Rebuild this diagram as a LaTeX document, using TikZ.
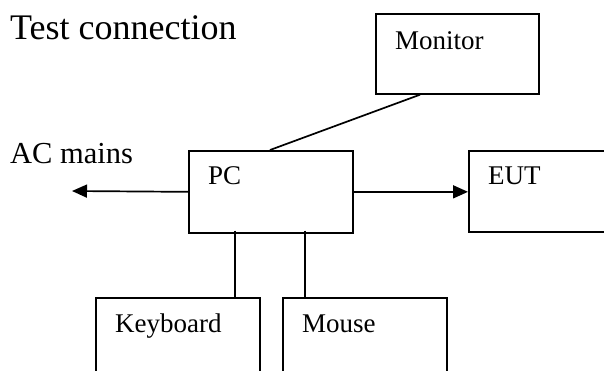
\documentclass[tikz,border=0pt]{standalone}
\usepackage{fontspec}
\setmainfont{Liberation Serif}
\usetikzlibrary{arrows.meta,calc}
\begin{document}
\begin{tikzpicture}[x=1pt,y=-1pt,
  box/.style={draw=black,line width=1.7pt,rectangle,anchor=north west,inner sep=0pt},
  lbl/.style={anchor=base west,inner sep=0pt,font=\fontsize{27}{31}\selectfont},
  conn/.style={line width=1.7pt},
  arr/.style={line width=1.7pt,-{Triangle[length=15pt,width=13pt]}}]
\useasboundingbox (0,0) rectangle (604,371);
\clip (0,0) rectangle (604,371);
\node[anchor=base west,inner sep=0pt,font=\fontsize{36}{41}\selectfont] (title) at (10,40) {Test connection};
\node[anchor=base west,inner sep=0pt,font=\fontsize{30.5}{35}\selectfont] (ac) at (10,164) {AC mains};
\node[box,minimum width=163pt,minimum height=80pt] (mon) at (375,13) {};
\node[lbl] (mont) at (395,50) {Monitor};
\node[box,minimum width=164pt,minimum height=82pt] (pc) at (188,150) {};
\node[lbl] (pct) at (208,185) {PC};
\node[box,minimum width=160pt,minimum height=81pt] (eut) at (468,150) {};
\node[lbl] (eutt) at (488,185) {EUT};
\node[box,minimum width=164pt,minimum height=110pt] (kb) at (95,297) {};
\node[lbl] (kbt) at (115,332) {Keyboard};
\node[box,minimum width=164pt,minimum height=110pt] (ms) at (282,297) {};
\node[lbl] (mst) at (302,332) {Mouse};
\coordinate (acend) at (72,191);
\draw[conn] ([xshift=45pt]mon.south west) -- ([xshift=82pt]pc.north west);
\draw[arr] (pc.west) -- (acend);
\draw[arr] (pc.east) -- (pc.east -| eut.west);
\draw[conn] ([xshift=47pt,yshift=3pt]pc.south west) -- ([xshift=140pt]kb.north west);
\draw[conn] ([xshift=117pt,yshift=3pt]pc.south west) -- ([xshift=23pt]ms.north west);
\end{tikzpicture}
\end{document}
